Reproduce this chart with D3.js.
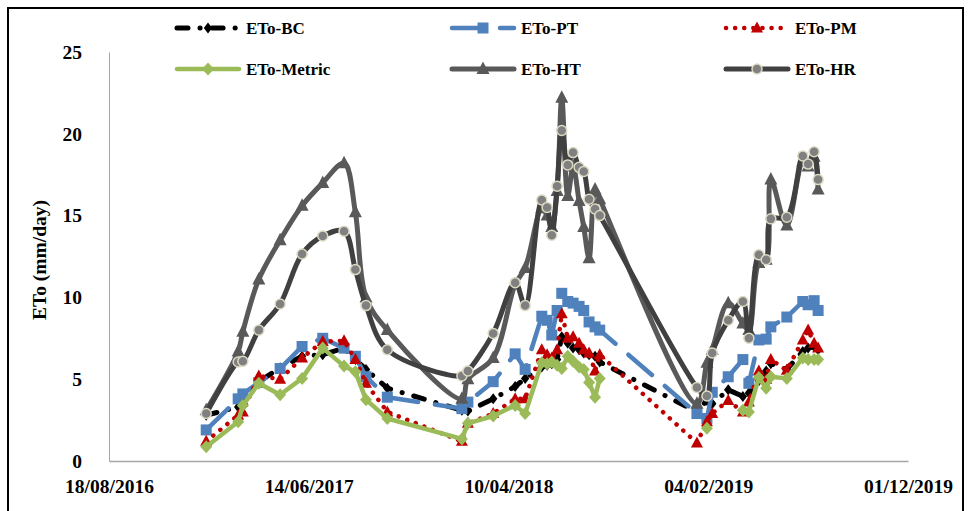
<!DOCTYPE html>
<html>
<head>
<meta charset="utf-8">
<script src="https://cdn.jsdelivr.net/npm/d3@7"></script>
<style>
  body { margin: 0; background: #fff; }
  svg { display: block; }
  text { font-family: "Liberation Serif", "Times New Roman", serif; font-weight: bold; fill: #000; }
</style>
</head>
<body>
<svg id="chart" width="970" height="511"></svg>
<script>
// Measurement dates (three seasons)
const dates = [
  "2017-01-11","2017-02-28","2017-03-07","2017-03-31","2017-05-02","2017-06-04","2017-07-05","2017-08-06","2017-08-23","2017-09-08","2017-10-10",
  "2018-01-30","2018-02-08","2018-03-18","2018-04-20","2018-05-05","2018-05-30","2018-06-07","2018-06-14","2018-06-22","2018-06-29","2018-07-08","2018-07-16","2018-07-25","2018-08-01","2018-08-09","2018-08-18","2018-08-25",
  "2019-01-18","2019-02-02","2019-02-10","2019-03-06","2019-03-28","2019-04-06","2019-04-21","2019-05-02","2019-05-09","2019-06-02","2019-06-26","2019-07-04","2019-07-13","2019-07-19"
];

// Reference evapotranspiration (mm/day) by method
const etoBC = [2.8,3.3,3.5,4.85,5.7,6.4,6.5,6.9,6.2,5.6,4.45,
  3.1,3.05,3.8,4.55,5.05,5.75,5.85,5.95,6.2,7.6,7.2,6.9,6.8,6.6,6.5,6.4,6.05,
  3.0,3.7,3.5,4.35,3.95,4.15,4.9,5.5,5.95,5.6,6.7,6.9,7.0,6.8];
const etoPT = [1.9,3.8,4.1,4.8,5.65,7.0,7.5,6.9,6.4,5.15,3.9,
  3.2,3.6,4.85,6.55,5.6,8.85,8.6,7.7,9.2,10.25,9.75,9.65,9.45,9.2,8.5,8.2,8.0,
  2.9,2.6,4.2,5.15,6.2,4.75,7.4,7.45,8.2,8.8,9.75,9.55,9.8,9.2];
const etoPM = [1.2,2.8,3.0,5.2,5.0,6.3,7.3,7.35,6.2,4.75,3.0,
  1.2,2.3,2.9,3.8,3.8,6.8,6.5,6.3,6.8,9.0,7.5,7.6,7.2,6.8,6.6,5.5,6.5,
  1.1,2.4,2.9,3.7,3.0,3.6,5.5,5.0,6.2,5.55,7.4,8.0,7.2,6.9];
const etoMetric = [0.87,2.4,3.4,4.75,4.05,5.05,6.9,5.8,5.45,3.75,2.6,
  1.35,2.3,2.75,3.4,2.9,6.0,5.95,6.05,5.85,5.65,6.4,6.1,5.75,5.6,4.8,3.9,5.05,
  null,2.0,null,null,3.1,3.0,5.1,4.45,5.15,5.05,6.3,6.2,6.2,6.2];
const etoHT = [3.1,6.7,7.9,11.1,13.5,15.6,17.0,18.2,15.2,10.0,8.0,
  3.8,5.0,6.3,10.8,11.8,15.45,15.0,14.3,16.5,22.2,16.2,18.0,15.9,14.3,12.4,16.6,16.0,
  3.5,6.0,6.8,9.65,8.4,8.0,12.1,12.3,17.2,14.4,18.3,18.0,18.6,16.6];
const etoHR = [2.9,6.05,6.1,8.0,9.6,12.65,13.75,14.05,11.7,9.5,6.8,
  5.2,5.5,7.8,10.9,9.5,15.95,15.5,13.8,16.8,20.2,18.1,18.85,17.95,17.7,16.0,15.4,15.0,
  4.5,3.97,6.6,8.6,9.75,7.5,12.6,12.3,14.8,14.9,18.65,18.15,18.9,17.2];

const seriesNames = ["ETo-BC","ETo-PT","ETo-PM","ETo-Metric","ETo-HT","ETo-HR"];
const xTickLabels = ["18/08/2016","14/06/2017","10/04/2018","04/02/2019","01/12/2019"];
const yTickValues = [0,5,10,15,20,25];

const parseDay = d3.timeParse("%Y-%m-%d");
const parseTick = d3.timeParse("%d/%m/%Y");
const days = dates.map(parseDay);

const svg = d3.select("#chart");

// outer frame
svg.append("rect").attr("x", 8).attr("y", 8).attr("width", 955).attr("height", 515)
  .attr("fill", "none").attr("stroke", "#000").attr("stroke-width", 2);

const x = d3.scaleTime()
  .domain([parseTick(xTickLabels[0]), parseTick(xTickLabels[xTickLabels.length - 1])])
  .range([109, 908]);
const y = d3.scaleLinear().domain([0, 25]).range([461, 52]);

// axes
const gx = svg.append("g").attr("transform", "translate(0,461)")
  .call(d3.axisBottom(x).tickValues(xTickLabels.map(parseTick))
    .tickFormat(d3.timeFormat("%d/%m/%Y")).tickSize(0).tickPadding(18));
gx.select(".domain").attr("stroke", "#a6a6a6").attr("stroke-width", 1.5);
gx.selectAll("text").attr("font-size", 19.5).attr("font-family", null);

const gy = svg.append("g").attr("transform", "translate(109,0)")
  .call(d3.axisLeft(y).tickValues(yTickValues).tickFormat(d3.format("d")).tickSize(0).tickPadding(27));
gy.select(".domain").attr("stroke", "#a6a6a6").attr("stroke-width", 1);
gy.selectAll("text").attr("font-size", 19.5).attr("font-family", null);

svg.append("text").attr("transform", "rotate(-90)")
  .attr("x", -260).attr("y", 46).attr("text-anchor", "middle")
  .attr("font-size", 19.5).text("ETo (mm/day)");

// marker shapes
const shapes = {
  diamondNarrow: "M0,-5.5L4.2,0L0,5.5L-4.2,0Z",
  square: "M-5.5,-5.5H5.5V5.5H-5.5Z",
  triangle: "M0,-6.5L6,4.5H-6Z",
  triangleBig: "M0,-7.5L6.5,5H-6.5Z",
  diamond: "M0,-6.5L6,0L0,6.5L-6,0Z",
  circle: "M5,0A5,5 0 1,1 -5,0A5,5 0 1,1 5,0Z"
};

const styles = [
  { values: etoBC, color: "#000000", width: 5, dash: "11,12,0.1,12", cap: "round", marker: "diamondNarrow", mfill: "#000", mstroke: "none", curve: d3.curveLinear },
  { values: etoPT, color: "#4f81bd", width: 4.5, dash: "31,17", cap: "round", marker: "square", mfill: "#4f81bd", mstroke: "none", curve: d3.curveLinear },
  { values: etoPM, color: "#c00000", width: 4.5, dash: "0.1,9", cap: "round", marker: "triangle", mfill: "#c00000", mstroke: "none", curve: d3.curveLinear },
  { values: etoMetric, color: "#9bbb59", width: 4.5, dash: null, cap: "round", marker: "diamond", mfill: "#9bbb59", mstroke: "none", curve: d3.curveLinear },
  { values: etoHT, color: "#595959", width: 5, dash: null, cap: "round", marker: "triangleBig", mfill: "#595959", mstroke: "none", curve: d3.curveCatmullRom.alpha(0.5) },
  { values: etoHR, color: "#404040", width: 5, dash: null, cap: "round", marker: "circle", mfill: "#808080", mstroke: "#ddd9c3", curve: d3.curveCatmullRom.alpha(0.5) }
];

const plot = svg.append("g");
styles.forEach((s, i) => {
  const pts = days.map((d, j) => ({ d, v: s.values[j] }));
  const line = d3.line().defined(p => p.v != null)
    .x(p => x(p.d)).y(p => y(p.v)).curve(s.curve);
  const g = plot.append("g").attr("class", "series-" + i);
  g.append("path").attr("d", line(pts)).attr("fill", "none")
    .attr("stroke", s.color).attr("stroke-width", s.width)
    .attr("stroke-linecap", s.cap).attr("stroke-linejoin", "round")
    .attr("stroke-dasharray", s.dash);
  g.selectAll("path.m").data(pts.filter(p => p.v != null)).join("path").attr("class", "m")
    .attr("d", shapes[s.marker])
    .attr("transform", p => `translate(${x(p.d)},${y(p.v)})`)
    .attr("fill", s.mfill).attr("stroke", s.mstroke).attr("stroke-width", 1.5);
});

// legend
const legendCols = [175, 450, 724];
const legendRows = [28, 69];
styles.forEach((s, i) => {
  const lx = legendCols[i % 3], ly = legendRows[Math.floor(i / 3)];
  const g = svg.append("g").attr("transform", `translate(${lx},${ly})`);
  g.append("line").attr("x1", 2).attr("x2", 64).attr("y1", 0).attr("y2", 0)
    .attr("stroke", s.color).attr("stroke-width", s.width)
    .attr("stroke-linecap", s.cap).attr("stroke-dasharray", s.dash);
  g.append("path").attr("d", shapes[s.marker]).attr("transform", "translate(33,0)")
    .attr("fill", s.mfill).attr("stroke", s.mstroke).attr("stroke-width", 1.5);
  g.append("text").attr("x", 71).attr("y", 6).attr("font-size", 17).text(seriesNames[i]);
});
</script>
</body>
</html>
